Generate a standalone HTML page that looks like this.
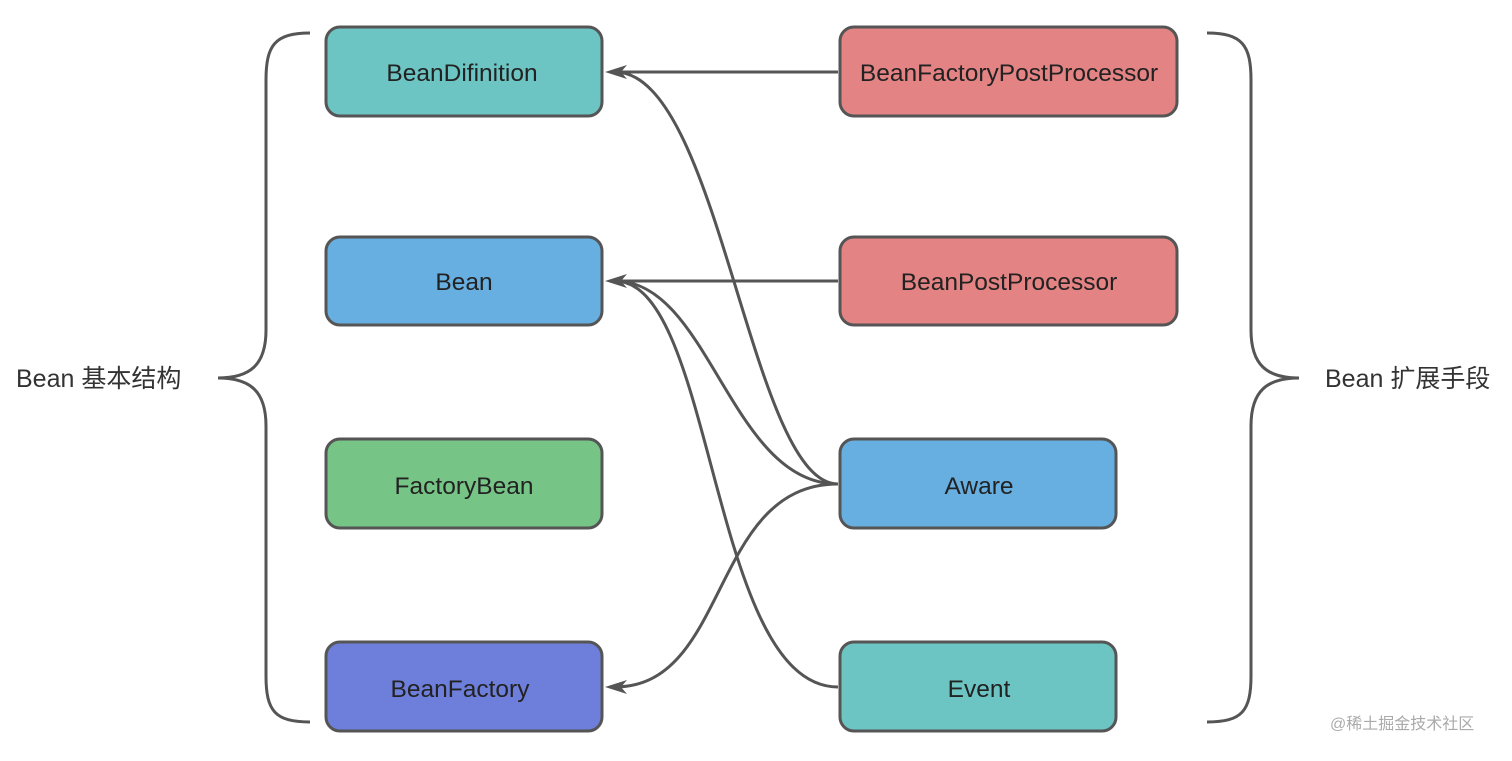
<!DOCTYPE html>
<html><head><meta charset="utf-8"><style>
body{margin:0;background:#fff;}
svg text{font-family:"Liberation Sans","Noto Sans CJK SC",sans-serif;}
</style></head><body>
<svg width="1512" height="756" viewBox="0 0 1512 756" xmlns="http://www.w3.org/2000/svg">
<g fill="none" stroke="#555" stroke-width="3">
<path d="M310,33 C275,33 266,45 266,80 L266,330 C266,365 250,378 218,378 C250,378 266,391 266,426 L266,676 C266,711 275,722 310,722"/>
<path d="M1207,33 C1242,33 1251,45 1251,80 L1251,330 C1251,365 1267,378 1299,378 C1267,378 1251,391 1251,426 L1251,676 C1251,711 1242,722 1207,722"/>
<path d="M838,72 L615,72"/>
<path d="M838,281 L615,281"/>
<path d="M838,484 C750,484 720,72 615,72"/>
<path d="M838,484 C730,484 710,281 615,281"/>
<path d="M838,687 C710,687 715,281 615,281"/>
<path d="M838,484 C710,484 730,687 615,687"/>
</g>
<g stroke="#555" stroke-width="3">
<rect x="326" y="27" width="276" height="89" rx="14" fill="#6cc5c3"/>
<rect x="326" y="237" width="276" height="88" rx="14" fill="#67afe0"/>
<rect x="326" y="439" width="276" height="89" rx="14" fill="#77c487"/>
<rect x="326" y="642" width="276" height="89" rx="14" fill="#6e7fdb"/>
<rect x="840" y="27" width="337" height="89" rx="14" fill="#e48383"/>
<rect x="840" y="237" width="337" height="88" rx="14" fill="#e48383"/>
<rect x="840" y="439" width="276" height="89" rx="14" fill="#67afe0"/>
<rect x="840" y="642" width="276" height="89" rx="14" fill="#6cc5c3"/>
</g>
<g fill="#555">
<path d="M605,72 L627,65 L621,72 L627,79 Z"/>
<path d="M605,281 L627,274 L621,281 L627,288 Z"/>
<path d="M605,687 L627,680 L621,687 L627,694 Z"/>
</g>
<g font-size="24.5" fill="#222" text-anchor="middle">
<text x="462" y="81">BeanDifinition</text>
<text x="464" y="290">Bean</text>
<text x="464" y="494">FactoryBean</text>
<text x="460" y="697">BeanFactory</text>
<text x="1009" y="81">BeanFactoryPostProcessor</text>
<text x="1009" y="290">BeanPostProcessor</text>
<text x="979" y="494">Aware</text>
<text x="979" y="697">Event</text>
</g>
<text x="16" y="387" font-size="25" fill="#333">Bean 基本结构</text>
<text x="1325" y="387" font-size="25" fill="#333">Bean 扩展手段</text>
<text x="1330" y="729" font-size="16" fill="#aaa">@稀土掘金技术社区</text>
</svg>
</body></html>
